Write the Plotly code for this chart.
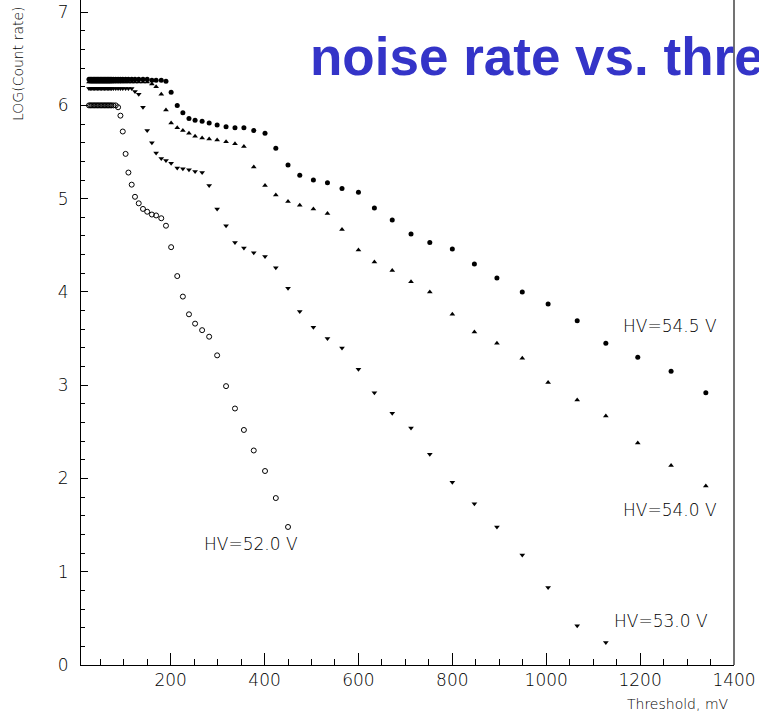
import plotly.graph_objects as go

# Discriminator threshold settings (mV)
threshold_mv = [26, 29, 32, 35, 38, 41, 44, 47, 50, 53, 56, 59, 62, 65, 68, 71, 74, 78,
                83, 88, 93, 98, 104, 110, 117, 124, 132, 141, 150, 160, 169, 180, 190,
                201, 214, 226, 239, 252, 267, 282, 299, 318, 337, 356, 377, 401, 424,
                450, 475, 504, 534, 565, 600, 634, 672, 712, 752, 800, 847, 895, 949,
                1004, 1066, 1127, 1195, 1266, 1340]

# log10 of count rate for each bias voltage
log_rate_545 = [6.28, 6.28, 6.28, 6.28, 6.28, 6.28, 6.28, 6.28, 6.28, 6.28, 6.28, 6.28,
                6.28, 6.28, 6.28, 6.28, 6.28, 6.28, 6.28, 6.28, 6.28, 6.28, 6.28, 6.28,
                6.28, 6.28, 6.28, 6.28, 6.28, 6.27, 6.27, 6.27, 6.26, 6.14, 6.00, 5.92,
                5.86, 5.84, 5.83, 5.81, 5.79, 5.77, 5.76, 5.76, 5.73, 5.70, 5.54, 5.36,
                5.25, 5.20, 5.17, 5.11, 5.07, 4.90, 4.77, 4.62, 4.53, 4.46, 4.30, 4.15,
                4.00, 3.87, 3.69, 3.45, 3.30, 3.15, 2.92]
log_rate_540 = [6.25, 6.25, 6.25, 6.25, 6.25, 6.25, 6.25, 6.25, 6.25, 6.25, 6.25, 6.25,
                6.25, 6.25, 6.25, 6.25, 6.25, 6.25, 6.25, 6.25, 6.25, 6.25, 6.25, 6.25,
                6.25, 6.25, 6.25, 6.25, 6.25, 6.23, 6.20, 6.12, 5.95, 5.81, 5.76, 5.73,
                5.70, 5.67, 5.65, 5.64, 5.63, 5.61, 5.59, 5.56, 5.34, 5.14, 5.04, 4.97,
                4.93, 4.89, 4.84, 4.67, 4.45, 4.32, 4.23, 4.11, 4.00, 3.76, 3.57, 3.45,
                3.29, 3.03, 2.84, 2.67, 2.38, 2.14, 1.92]
log_rate_530 = [6.18, 6.18, 6.18, 6.18, 6.18, 6.18, 6.18, 6.18, 6.18, 6.18, 6.18, 6.18,
                6.18, 6.18, 6.18, 6.18, 6.18, 6.18, 6.18, 6.18, 6.18, 6.18, 6.18, 6.18,
                6.18, 6.15, 6.12, 5.98, 5.73, 5.60, 5.49, 5.43, 5.41, 5.38, 5.33, 5.32,
                5.31, 5.29, 5.28, 5.14, 4.89, 4.71, 4.53, 4.47, 4.42, 4.38, 4.26, 4.04,
                3.79, 3.62, 3.50, 3.40, 3.17, 2.92, 2.70, 2.54, 2.26, 1.96, 1.73, 1.48,
                1.18, 0.83, 0.42, 0.24]
log_rate_520 = [6.00, 6.00, 6.00, 6.00, 6.00, 6.00, 6.00, 6.00, 6.00, 6.00, 6.00, 6.00,
                6.00, 6.00, 6.00, 6.00, 6.00, 6.00, 6.00, 5.98, 5.89, 5.72, 5.48, 5.28,
                5.15, 5.02, 4.95, 4.89, 4.86, 4.83, 4.82, 4.79, 4.71, 4.48, 4.17, 3.95,
                3.76, 3.66, 3.59, 3.52, 3.32, 2.99, 2.75, 2.52, 2.30, 2.08, 1.79, 1.48]

hv_labels = ["HV=52.0 V", "HV=53.0 V", "HV=54.0 V", "HV=54.5 V"]
label_x_mv = [371, 1244, 1264, 1264]
label_y = [1.30, 0.475, 1.66, 3.64]

series = [
    (log_rate_520, "circle-open", hv_labels[0]),
    (log_rate_530, "triangle-down", hv_labels[1]),
    (log_rate_540, "triangle-up", hv_labels[2]),
    (log_rate_545, "circle", hv_labels[3]),
]

W, H = 759, 715
ML, MR, MT, MB = 81, 25, 0, 50
plot_w = W - ML - MR
plot_h = H - MT - MB

fig = go.Figure()
for ys, sym, name in series:
    fig.add_trace(go.Scatter(
        x=threshold_mv[:len(ys)], y=ys, mode="markers", name=name,
        marker=dict(symbol=sym, size=5, color="black",
                    line=dict(color="black", width=1 if "open" in sym else 0)),
    ))

thin = "DejaVu Sans, Liberation Sans, sans-serif"
tick_font = dict(family=thin, size=17, color="black", weight=200)
label_font = dict(family=thin, size=17, color="black", weight=200)

annotations = []
for txt, lx, ly in zip(hv_labels, label_x_mv, label_y):
    annotations.append(dict(x=lx, y=ly, xref="x", yref="y", text=txt, showarrow=False,
                            xanchor="center", yanchor="middle", font=label_font))

def px_x(px):
    return (px - ML) / plot_w

def px_y(py):
    return (H - MB - py) / plot_h

annotations += [
    dict(x=px_x(308), y=px_y(56), xref="paper", yref="paper", text="noise rate vs. thre",
         showarrow=False, xanchor="left", yanchor="middle",
         font=dict(family="Liberation Sans, Arial, sans-serif", size=53, color="#3434C8",
                   weight="bold")),
    dict(x=px_x(18), y=px_y(64), xref="paper", yref="paper", text="LOG(Count rate)",
         showarrow=False, textangle=-90, xanchor="center", yanchor="middle",
         font=dict(family=thin, size=14, color="black", weight=200)),
    dict(x=px_x(731), y=px_y(704), xref="paper", yref="paper", text="Threshold, mV",
         showarrow=False, xanchor="right", yanchor="middle",
         font=dict(family=thin, size=14, color="black", weight=200)),
]

fig.update_layout(
    width=W, height=H,
    margin=dict(l=ML, r=MR, t=MT, b=MB, pad=0),
    paper_bgcolor="white", plot_bgcolor="white",
    showlegend=False,
    annotations=annotations,
    shapes=[dict(type="line", xref="paper", yref="paper", x0=1, x1=1, y0=0, y1=1,
                 line=dict(color="#444", width=1.5))],
)
fig.update_xaxes(
    range=[9, 1400], tick0=0, dtick=200, showgrid=False, zeroline=False,
    showline=True, linecolor="black", linewidth=1,
    ticks="inside", ticklen=12, tickcolor="black", tickwidth=1,
    minor=dict(dtick=50, tick0=0, ticks="inside", ticklen=6, tickcolor="black", showgrid=False),
    tickfont=tick_font, ticklabelstandoff=0,
)
fig.update_yaxes(
    range=[0, 7.13], tick0=0, dtick=1, showgrid=False, zeroline=False,
    showline=True, linecolor="black", linewidth=1,
    ticks="inside", ticklen=7, tickcolor="black", tickwidth=1,
    minor=dict(dtick=0.2, tick0=0, ticks="inside", ticklen=4, tickcolor="black", showgrid=False),
    tickfont=tick_font, ticklabelstandoff=8,
)

fig.write_html("out.html")
